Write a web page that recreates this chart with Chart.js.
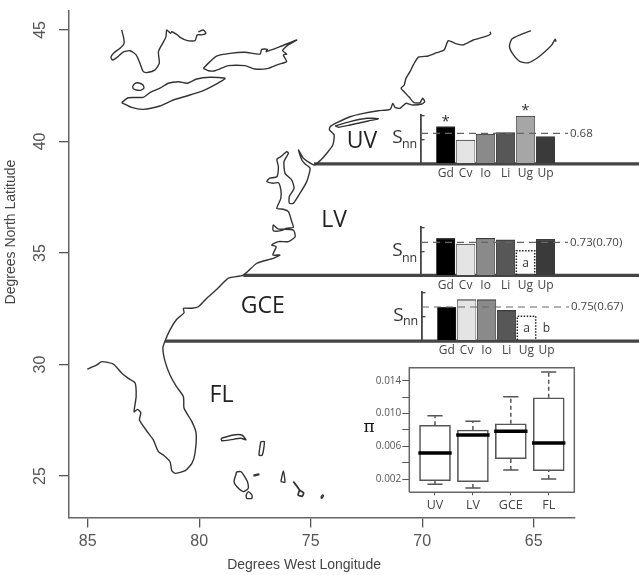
<!DOCTYPE html>
<html><head><meta charset="utf-8">
<script src="https://cdn.jsdelivr.net/npm/chart.js@4"></script>
<style>
html,body{margin:0;padding:0;background:#fff;width:639px;height:575px;overflow:hidden}
canvas{position:absolute;display:block;filter:blur(0.3px)}
</style></head><body>
<canvas id="map" width="639" height="575" style="left:0;top:0"></canvas>
<canvas id="uv" width="259" height="85" style="left:380px;top:100px"></canvas>
<canvas id="lv" width="259" height="85" style="left:380px;top:212px"></canvas>
<canvas id="gce" width="259" height="85" style="left:380.7px;top:277.3px"></canvas>
<canvas id="box" width="230" height="165" style="left:360px;top:358px"></canvas>
<script>
// ---- map data (degrees west longitude, degrees north latitude)
const lonTicks=[85,80,75,70,65];
const latTicks=[45,40,35,30,25];
const huronLon=[83.48,83.40,83.37,83.55,83.82,83.96,83.88,83.67,83.43,83.10,82.83,82.66,82.51,82.33,81.98,81.79,81.83,81.64,81.49,81.46,81.28,81.23,80.98,80.86,80.53,80.19,80.09,79.89,79.70,79.82,80.04];
const huronLat=[45.00,44.70,44.40,44.18,43.98,43.78,43.65,43.78,44.00,44.07,43.88,43.51,43.13,43.09,43.21,43.51,44.03,44.40,44.70,45.00,44.85,44.92,44.78,44.67,44.52,44.52,44.78,44.78,44.85,45.00,44.91];
const stClairLon=[82.98,82.88,82.70,82.52,82.48,82.61,82.83,82.97,82.98];
const stClairLat=[42.49,42.61,42.62,42.53,42.40,42.30,42.31,42.38,42.49];
const erieLon=[83.48,83.18,82.51,82.21,81.76,81.39,80.94,80.53,80.11,79.52,78.84,79.22,79.82,80.56,81.16,81.76,82.51,83.03,83.48];
const erieLat=[41.74,41.96,41.98,42.19,42.39,42.61,42.68,42.61,42.80,42.88,42.83,42.58,42.28,42.04,41.86,41.59,41.44,41.53,41.74];
const ontarioLon=[79.82,79.52,79.22,78.62,77.95,77.27,77.20,76.95,77.00,76.38,75.63,76.01,76.26,76.08,76.23,76.08,76.45,76.90,77.50,77.95,78.69,79.29,79.59,79.82];
const ontarioLat=[43.28,43.58,43.83,43.95,44.00,43.92,44.13,44.13,44.03,44.25,44.55,44.33,44.07,43.92,43.88,43.58,43.46,43.28,43.25,43.40,43.40,43.17,43.17,43.28];
const coastLon=[66.96,66.93,67.18,67.71,68.16,68.53,68.83,69.02,69.35,69.73,70.17,70.40,70.55,70.73,70.81,70.95,70.81,70.58,70.37,70.10,69.98,69.89,70.02,70.47,70.73,70.99,71.22,71.32,71.44,71.97,72.64,73.24,73.83,74.13,74.16,73.95,74.01,74.28,74.55,74.85,75.33,75.55,75.40,75.25,75.03,75.18,75.48,75.78,75.96,75.96,75.75,75.85,76.15,76.20,76.00,76.07,76.34,76.52,76.45,76.52,76.85,76.97,76.68,76.45,76.34,76.34,76.52,76.23,76.00,75.85,75.78,76.07,76.34,76.68,76.68,76.47,75.78,75.70,76.00,76.45,76.75,76.55,76.70,76.38,76.68,77.42,78.02,78.69,79.21,79.66,80.04,80.33,80.71,80.68,81.01,81.31,81.53,81.63,81.53,81.31,81.04,80.71,80.68,80.33,80.14,80.19,80.33,80.63,81.08,81.23,81.31,81.61,81.83,82.06,82.28,82.68,82.62,82.77,82.92,82.83,82.88,83.18,83.47,83.85,84.37,84.59,85.02];
const coastLat=[44.92,44.82,44.70,44.55,44.33,44.40,44.52,44.10,43.98,43.83,43.78,43.43,43.13,42.83,42.53,42.39,42.23,41.98,41.74,41.74,41.94,41.79,41.68,41.64,41.71,41.49,41.53,41.71,41.44,41.38,41.26,41.11,40.84,40.66,40.52,40.29,39.84,39.47,39.17,38.95,39.25,39.62,39.17,38.99,38.80,38.20,37.68,37.23,37.23,37.53,37.90,38.27,38.57,39.09,39.47,39.54,39.32,39.20,38.87,38.42,38.35,38.20,38.13,38.15,37.83,37.45,37.00,36.96,36.85,36.40,36.15,36.11,36.00,36.00,36.26,36.08,36.03,35.73,35.51,35.51,35.36,35.28,34.91,34.91,34.76,34.54,34.01,33.87,33.37,32.97,32.59,32.52,32.52,32.32,32.03,31.55,31.06,30.73,30.13,29.53,29.04,28.56,28.04,27.44,26.92,26.02,25.57,25.24,25.12,25.24,25.64,25.94,26.09,26.62,26.92,27.51,27.84,27.99,27.88,28.56,29.18,29.38,29.61,30.02,30.13,29.98,29.79];
const longIslandLon=[73.91,73.24,72.49,71.97,72.42,73.24,73.76,73.91];
const longIslandLat=[40.70,40.89,41.04,41.02,40.92,40.74,40.64,40.70];
const novaScotiaLon=[65.13,65.61,65.99,66.09,65.91,65.61,65.24,64.86,64.49,64.19,64.04,64.00];
const novaScotiaLat=[44.97,44.78,44.58,44.25,43.88,43.58,43.53,43.73,44.03,44.33,44.58,44.47];
const grandBahamaLon=[79.02,78.47,78.09,77.90,78.14,78.62,78.99,79.02];
const grandBahamaLat=[26.69,26.84,26.84,26.62,26.69,26.62,26.58,26.69];
const abacoLon=[77.24,77.08,77.17,77.32,77.24];
const abacoLat=[26.54,26.54,25.94,25.94,26.54];
const androsLon=[78.32,78.12,77.84,77.80,78.02,78.32,78.44,78.32];
const androsLat=[25.19,25.19,24.75,24.45,24.30,24.53,24.75,25.19];
const andros2Lon=[77.90,77.80,77.64,77.64,77.87,77.90];
const andros2Lat=[24.15,24.30,24.15,24.00,24.00,24.15];
const berryLon=[77.57,77.30];
const berryLat=[25.02,25.08];
const eleutheraLon=[76.34,76.23,76.16,76.34];
const eleutheraLat=[24.75,25.23,24.72,24.75];
const catLon=[75.78,75.51,75.57,75.39,75.32,75.51];
const catLat=[24.75,24.37,24.15,24.09,24.24,24.37];
const dotLon=[74.55,74.48,74.43,74.51,74.55];
const dotLat=[24.03,24.15,24.12,24.00,24.03];
const regionLats=[39.0,34.0,31.05];
const regionStartLons=[74.85,78.02,81.53];
const regionEndLon=60.28;
const regionNames=['UV','LV','GCE','FL'];
const regionNameLons=[72.70,73.95,77.15,79.0];
const regionNameLats=[40.0,36.47,32.6,28.63];

// ---- Snn panels
const taxa=['Gd','Cv','Io','Li','Ug','Up'];
const uvSnn=[0.767,0.485,0.612,0.64,0.994,0.555];
const lvSnn=[0.775,0.655,0.775,0.74,null,0.754];
const gceSnn=[0.697,0.852,0.852,0.625,null,null];
const lvDotted=[null,null,null,null,0.513,null];
const gceDotted=[null,null,null,null,0.5,null];
const uvDash=0.627, lvDash=0.69, gceDash=0.697;
const uvLabel='0.68', lvLabel='0.73(0.70)', gceLabel='0.75(0.67)';
const barColors=['#000000','#e4e4e4','#8a8a8a','#575757','#a6a6a6','#3a3a3a'];

// ---- pi boxplot
const boxCats=['UV','LV','GCE','FL'];
const piQ1=[0.00183,0.00171,0.0045,0.00305];
const piQ3=[0.00857,0.0080,0.00876,0.01192];
const piMedian=[0.0052,0.00739,0.00784,0.00641];
const piLow=[0.00139,0.00094,0.00313,0.00204];
const piHigh=[0.00973,0.00905,0.01204,0.01505];
const piTicks=[0.002,0.004,0.006,0.008,0.010,0.012,0.014];
const piLabelled=[0.002,0.006,0.010,0.014];

// ---- helpers
const zip=(xs,ys)=>xs.map((x,i)=>({x,y:ys[i]}));
const base={responsive:false,animation:false,events:[],devicePixelRatio:1};
const noPad=s=>{s.paddingTop=0;s.paddingBottom=0;s.paddingLeft=0;s.paddingRight=0};
const textPlugin=(items,xId='x',yId='y')=>({id:'txt',afterDatasetsDraw(c){
  const ctx=c.ctx,xs=c.scales[xId],ys=c.scales[yId];
  ctx.save();
  items.forEach(t=>{
    const px=xs.getPixelForValue(t.x),py=ys.getPixelForValue(t.y);
    ctx.save();ctx.translate(px,py);if(t.rot)ctx.rotate(t.rot);
    ctx.font=t.font;ctx.fillStyle=t.color||'#333';
    ctx.textAlign=t.align||'center';ctx.textBaseline='middle';
    ctx.fillText(t.t,0,0);ctx.restore();
  });
  ctx.restore();
}});

// ---- main map
const coastDs=(lon,lat,w)=>({data:zip(lon,lat),showLine:true,pointRadius:0,borderColor:'#333',borderWidth:w||1.4,tension:0.2,fill:false});
const coasts=[[huronLon,huronLat],[stClairLon,stClairLat],[erieLon,erieLat],[ontarioLon,ontarioLat],[coastLon,coastLat],[longIslandLon,longIslandLat],[novaScotiaLon,novaScotiaLat],[grandBahamaLon,grandBahamaLat],[abacoLon,abacoLat],[androsLon,androsLat],[andros2Lon,andros2Lat],[berryLon,berryLat,2.2],[eleutheraLon,eleutheraLat],[catLon,catLat,1.8],[dotLon,dotLat]];
const mapSets=coasts.map(a=>coastDs(a[0],a[1],a[2]));
regionLats.forEach((lat,i)=>mapSets.push({data:[{x:regionStartLons[i],y:lat},{x:regionEndLon,y:lat}],showLine:true,pointRadius:0,borderColor:'#454545',borderWidth:3.2,clip:false}));
const mapTexts=regionNames.map((t,i)=>({t,x:regionNameLons[i],y:regionNameLats[i],font:'23px "Open Sans"',color:'#222'}));
mapTexts.push({t:'Degrees West Longitude',x:75.30,y:21.01,font:'14px "Liberation Sans"',color:'#444'});
mapTexts.push({t:'Degrees North Latitude',x:88.44,y:35.94,font:'14px "Liberation Sans"',color:'#444',rot:-Math.PI/2});
new Chart(document.getElementById('map'),{type:'scatter',data:{datasets:mapSets},plugins:[textPlugin(mapTexts)],options:{...base,
  layout:{padding:{left:0,right:64,top:11,bottom:0}},
  plugins:{legend:{display:false},tooltip:{enabled:false}},
  scales:{
    x:{type:'linear',reverse:true,min:63.15,max:85.84,afterBuildTicks:s=>{s.ticks=lonTicks.map(value=>({value}))},afterFit:s=>{s.height=57.5;noPad(s)},
       grid:{drawOnChartArea:false,tickLength:10,color:'#555',lineWidth:1.3},border:{color:'#666',width:1.5},
       ticks:{font:{family:'Liberation Sans',size:16},color:'#555',padding:4,maxRotation:0,callback:v=>String(v)}},
    y:{type:'linear',min:23.14,max:45.85,afterBuildTicks:s=>{s.ticks=latTicks.map(value=>({value}))},afterFit:s=>{s.width=69;noPad(s)},
       grid:{drawOnChartArea:false,tickLength:10,color:'#555',lineWidth:1.3},border:{color:'#666',width:1.5},
       ticks:{font:{family:'Liberation Sans',size:16},color:'#555',padding:10,minRotation:90,maxRotation:90,crossAlign:'center',callback:v=>String(v)}}
  }}});

// ---- Snn panels
function panel(id,vals,dotted,dash,label,sY,nY,extra){
  const solid=vals.map((y,x)=>({x,y}));
  const sets=[{type:'bar',data:solid,backgroundColor:barColors,borderColor:'#3c3c3c',borderWidth:{top:1.2,left:0.6,right:0.6,bottom:0},barThickness:18.5,order:2}];
  dotted.forEach((v,i)=>{ if(v!==null) sets.push({type:'line',data:[{x:i-0.46,y:0},{x:i-0.46,y:v},{x:i+0.46,y:v},{x:i+0.46,y:0}],borderColor:'#222',borderWidth:1.5,borderDash:[1.5,1.5],pointRadius:0,order:1}); });
  sets.push({type:'line',data:[{x:-1.238,y:dash},{x:6.13,y:dash}],borderColor:'#666',borderWidth:1.2,borderDash:[7,5],pointRadius:0,clip:false,order:0});
  const texts=[
    {t:'S',x:-2.42,y:sY,font:'19px "Open Sans"',color:'#333'},
    {t:'nn',x:-1.81,y:nY,font:'12.5px "Open Sans"',color:'#333'},
    {t:label,x:6.23,y:dash,font:'11.5px "Open Sans"',color:'#444',align:'left'},
    ...extra];
  new Chart(document.getElementById(id),{type:'bar',data:{datasets:sets},plugins:[textPlugin(texts)],options:{...base,
    layout:{padding:{left:0,right:71,top:15.2,bottom:0}},
    plugins:{legend:{display:false},tooltip:{enabled:false}},
    scales:{
      x:{type:'linear',offset:false,min:-1.238,max:6.13,afterBuildTicks:s=>{s.ticks=taxa.map((_,value)=>({value}))},afterFit:s=>{s.height=22.1;noPad(s)},
         grid:{display:false,drawTicks:false,offset:false},border:{display:false},
         ticks:{font:{family:'Open Sans',size:12},color:'#444',padding:3,maxRotation:0,autoSkip:false,callback:v=>taxa[v]}},
      y:{type:'linear',min:0,max:1.01,afterBuildTicks:s=>{s.ticks=[{value:0.5},{value:1}]},afterFit:s=>{s.width=41;noPad(s)},
         grid:{drawOnChartArea:false,tickLength:-3.5,color:'#444',lineWidth:1.3},border:{color:'#444',width:1.8},
         ticks:{display:false}}
    }}});
}
const smallFont='12px "Open Sans"';
panel('uv',uvSnn,[null,null,null,null,null,null],uvDash,uvLabel,0.534,0.39,[
  {t:'*',x:0,y:uvSnn[0]+0.11,font:'15px "Open Sans"',color:'#333'},
  {t:'*',x:4,y:uvSnn[4]+0.11,font:'15px "Open Sans"',color:'#333'}]);
panel('lv',lvSnn,lvDotted,lvDash,lvLabel,0.506,0.35,[{t:'a',x:4,y:0.25,font:smallFont}]);
panel('gce',gceSnn,gceDotted,gceDash,gceLabel,0.51,0.39,[{t:'a',x:4,y:0.245,font:smallFont},{t:'b',x:5,y:0.245,font:smallFont}]);

// ---- pi boxplot
const bx=[];
boxCats.forEach((_,i)=>{
  bx.push({type:'line',data:[{x:i,y:piQ3[i]},{x:i,y:piHigh[i]}],borderColor:'#555',borderWidth:1.5,borderDash:[4,3],pointRadius:0});
  bx.push({type:'line',data:[{x:i,y:piLow[i]},{x:i,y:piQ1[i]}],borderColor:'#555',borderWidth:1.5,borderDash:[4,3],pointRadius:0});
  bx.push({type:'line',data:[{x:i-0.2,y:piHigh[i]},{x:i+0.2,y:piHigh[i]}],borderColor:'#555',borderWidth:1.5,pointRadius:0});
  bx.push({type:'line',data:[{x:i-0.2,y:piLow[i]},{x:i+0.2,y:piLow[i]}],borderColor:'#555',borderWidth:1.5,pointRadius:0});
  bx.push({type:'line',data:[{x:i-0.44,y:piMedian[i]},{x:i+0.44,y:piMedian[i]}],borderColor:'#000',borderWidth:3.4,pointRadius:0,order:-1});
});
bx.push({type:'bar',data:boxCats.map((_,i)=>({x:i,y:[piQ1[i],piQ3[i]]})),backgroundColor:'#fff',borderColor:'#555',borderWidth:1.6,borderSkipped:false,barThickness:31,order:1});
const xMin=-0.678,xMax=3.675,yMin=0.00042,yMax=0.01558;
bx.push({type:'line',data:[{x:xMin,y:yMin},{x:xMax,y:yMin},{x:xMax,y:yMax},{x:xMin,y:yMax},{x:xMin,y:yMin}],borderColor:'#666',borderWidth:1.5,pointRadius:0,clip:false});
new Chart(document.getElementById('box'),{type:'bar',data:{datasets:bx},plugins:[textPlugin([{t:'π',x:-1.74,y:0.00824,font:'17px "DejaVu Serif"',color:'#111'}])],options:{...base,
  layout:{padding:{left:0,right:15.7,top:9.7,bottom:0}},
  plugins:{legend:{display:false},tooltip:{enabled:false}},
  scales:{
    x:{type:'linear',offset:false,min:xMin,max:xMax,afterBuildTicks:s=>{s.ticks=boxCats.map((_,value)=>({value}))},afterFit:s=>{s.height=30.7;noPad(s)},
       grid:{drawOnChartArea:false,offset:false,tickLength:3,color:'#555'},border:{display:false},
       ticks:{font:{family:'Open Sans',size:12.5},color:'#444',padding:3,maxRotation:0,autoSkip:false,callback:v=>boxCats[v]}},
    y:{type:'linear',min:yMin,max:yMax,afterBuildTicks:s=>{s.ticks=piTicks.map(value=>({value}))},afterFit:s=>{s.width=49.3;noPad(s)},
       grid:{drawOnChartArea:false,tickLength:7,color:'#555'},border:{display:false},
       ticks:{font:{family:'Open Sans',size:10},color:'#555',padding:1,autoSkip:false,callback:v=>piLabelled.some(p=>Math.abs(p-v)<1e-6)?v.toFixed(3):''}}
  }}});
</script>
</body></html>
